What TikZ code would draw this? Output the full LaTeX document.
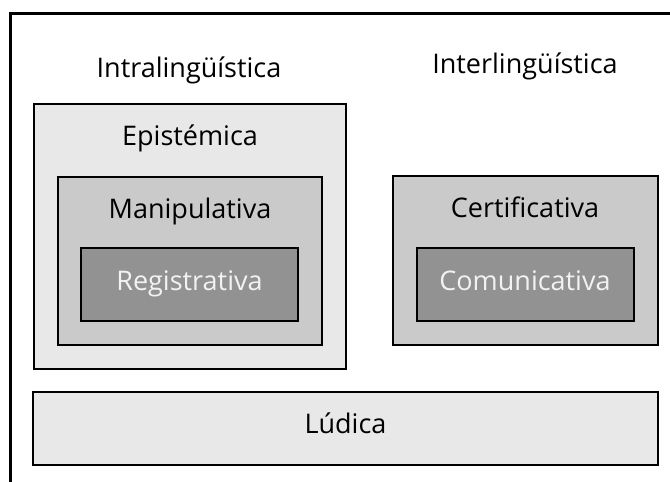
\documentclass[tikz,border=0pt]{standalone}
\usepackage{fontspec}
\setmainfont{Open Sans}
\definecolor{lightfill}{HTML}{E8E8E8}
\definecolor{midfill}{HTML}{CACACA}
\definecolor{darkfill}{HTML}{929292}
\definecolor{lighttext}{HTML}{F2F2F2}
\begin{document}
\begin{tikzpicture}[x=1pt,y=-1pt,
  lbl/.style={anchor=base,inner sep=0pt,font=\fontsize{27}{31}\selectfont},
  outerbox/.style={draw=black,line width=1.6pt,fill=lightfill},
  midbox/.style={draw=black,line width=1.6pt,fill=midfill},
  innerbox/.style={draw=black,line width=2pt,fill=darkfill},
  frameline/.style={draw=black,line width=3pt}]
\useasboundingbox (0,0) rectangle (670,482);
% frame (cropped)
\coordinate (fbl) at (10.5,484);
\coordinate (ftl) at (10.5,13.5);
\coordinate (ftr) at (672,13.5);
\draw[frameline] (fbl) -- (ftl) -- (ftr);
% boxes
\draw[outerbox] (34,104) rectangle (346,369);
\draw[midbox] (58,177) rectangle (322,345);
\draw[innerbox] (81,248) rectangle (298,321);
\draw[midbox] (393,176) rectangle (658,345);
\draw[innerbox] (417,248) rectangle (634,321);
\draw[outerbox,line width=2pt] (33,392) rectangle (658,465);
% labels
\node[lbl] (intra) at (189,77) {Intralingüística};
\node[lbl] (inter) at (525,73) {Interlingüística};
\node[lbl] (epi) at (190,145) {Epistémica};
\node[lbl] (mani) at (190,218) {Manipulativa};
\node[lbl,text=lighttext] (regi) at (189.5,290) {Registrativa};
\node[lbl] (cert) at (525,217) {Certificativa};
\node[lbl,text=lighttext] (comu) at (525,290) {Comunicativa};
\node[lbl] (ludi) at (345.5,433) {Lúdica};
\end{tikzpicture}
\end{document}
